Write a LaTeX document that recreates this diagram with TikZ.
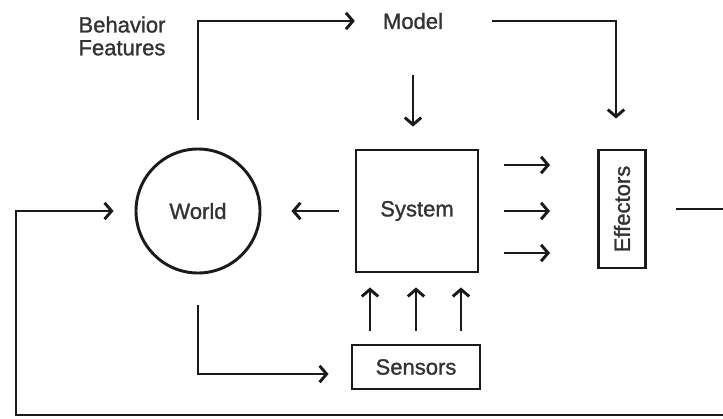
\documentclass[tikz,border=0pt]{standalone}
\usepackage{fontspec}
\setmainfont{Liberation Sans}[FakeBold=1.2]
\usetikzlibrary{arrows.meta,positioning}
\definecolor{linedark}{HTML}{1A1A1A}
\definecolor{textdark}{HTML}{333333}

\begin{document}
\begin{tikzpicture}[
  x=0.03cm, y=-0.03cm,
  font=\fontsize{18.8}{19.5}\selectfont,
  block/.style={rectangle, draw=linedark, line width=2.5pt, text=textdark, align=center},
  world/.style={circle, draw=linedark, line width=2.5pt, text=textdark, minimum size=3.72cm},
  plaintext/.style={text=textdark},
  arrow/.style={-{Straight Barb[length=6pt,width=14pt]}, line width=2.5pt, draw=linedark},
  wire/.style={line width=2.5pt, draw=linedark}
]
\useasboundingbox (0,0) rectangle (723,419);

\node[world] (world) at (198,211) {World};
\node[block, minimum width=3.66cm, minimum height=3.66cm] (system) at (417,211) {System};
\node[block, minimum width=1.41cm, minimum height=3.54cm] (effectors) at (622,209) {\rotatebox{90}{Effectors}};
\node[block, minimum width=3.84cm, minimum height=1.32cm] (sensors) at (416,367) {Sensors};
\node[plaintext] (model) at (413,21) {Model};
\node[plaintext, align=left] (features) at (122,36) {Behavior\\Features};

\coordinate (back) at (745,415);
\coordinate (entry) at (16,211);

\draw[arrow, shorten <=0.84cm, shorten >=0.72cm] (world.north) |- (model.west);
\draw[arrow, shorten <=1.35cm, shorten >=0.9cm] (model.east) -| ([xshift=-0.18cm]effectors.north);
\draw[arrow, shorten <=1.26cm, shorten >=0.66cm] (model.south) -- (model.south |- system.north);
\draw[arrow, shorten <=0.48cm, shorten >=0.9cm] (system.west) -- (world.east);
\foreach \s in {1.38,0,-1.26}
  \draw[arrow, shorten <=0.75cm, shorten >=1.41cm] ([yshift=\s cm]system.east) -- ([yshift=\s cm]system.east -| effectors.west);
\foreach \s in {-1.38,0,1.35}
  \draw[arrow, shorten <=0.39cm, shorten >=0.42cm] ([xshift=\s cm]sensors.north) -- ([xshift=\s cm]sensors.north |- system.south);
\draw[arrow, shorten <=0.93cm, shorten >=0.66cm] (world.south) |- ([yshift=-0.21cm]sensors.west);
\draw[arrow, shorten <=0.87cm, shorten >=0.63cm] (effectors.east) -| (back) -| (entry) -- (world.west);

\end{tikzpicture}
\end{document}
